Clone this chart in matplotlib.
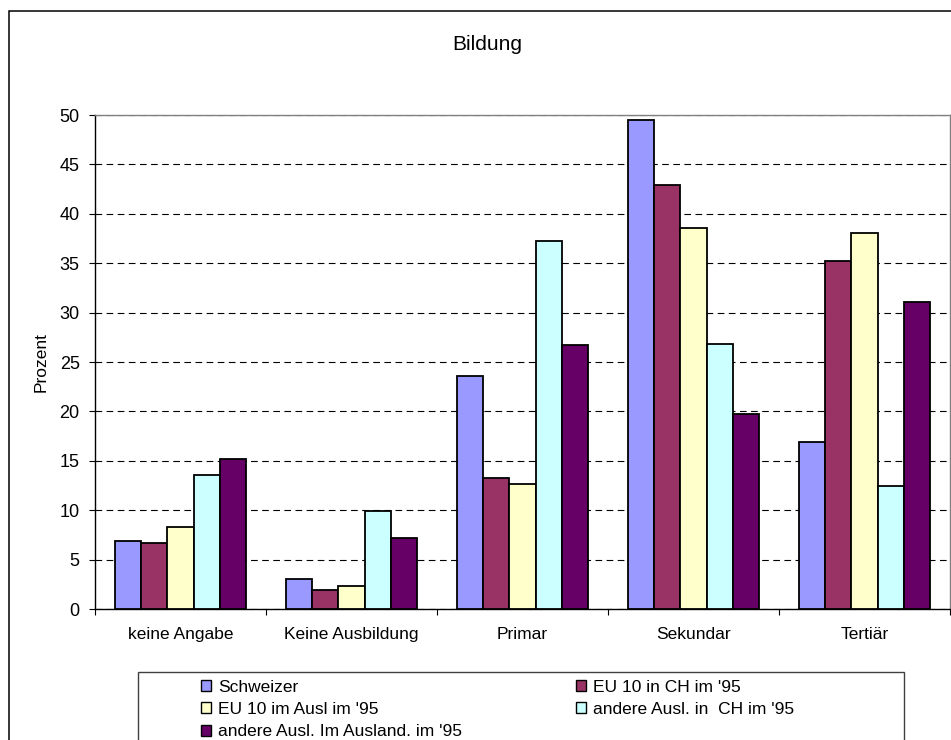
import numpy as np
import matplotlib
matplotlib.use("Agg")
import matplotlib.pyplot as plt
from matplotlib.patches import Patch, Rectangle

plt.rcParams['font.family'] = ['Liberation Sans', 'DejaVu Sans']

# data
categories = ['keine Angabe', 'Keine Ausbildung', 'Primar', 'Sekundar', 'Tertiär']
series_names = ['Schweizer', "EU 10 in CH im '95", "EU 10 im Ausl im '95",
                "andere Ausl. in  CH im '95", "andere Ausl. Im Ausland. im '95"]
schweizer = [6.9, 3.0, 23.6, 49.5, 16.9]
eu10_ch = [6.7, 1.9, 13.3, 42.9, 35.2]
eu10_ausl = [8.3, 2.3, 12.7, 38.6, 38.1]
andere_ch = [13.6, 9.9, 37.2, 26.8, 12.4]
andere_ausl = [15.2, 7.2, 26.7, 19.7, 31.1]
y_ticks = [0, 5, 10, 15, 20, 25, 30, 35, 40, 45, 50]

colors = ['#9999FF', '#993366', '#FFFFCC', '#CCFFFF', '#660066']
values = [schweizer, eu10_ch, eu10_ausl, andere_ch, andere_ausl]

W, H = 951, 740
fig = plt.figure(figsize=(W / 100, H / 100), dpi=100)

# outer chart border
fig.add_artist(Rectangle((9 / W, -0.1), 1.2, 1 - 11 / H + 0.1, transform=fig.transFigure,
                         fill=False, edgecolor='black', lw=1.1))

ax = fig.add_axes([95 / W, 1 - 609 / H, (950 - 95) / W, (609 - 115) / H])

x = np.arange(len(categories))
bw = 0.153
for i, (vals, c) in enumerate(zip(values, colors)):
    ax.bar(x + (i - 2) * bw, vals, width=bw, color=c, edgecolor='black', lw=1.3, zorder=3)

ax.set_xlim(-0.5, len(categories) - 0.5)
ax.set_ylim(0, 50)
ax.set_yticks(y_ticks)
ax.tick_params(axis='y', direction='out', length=4, width=0.8, pad=7, labelsize=13)
ax.set_xticks(x)
ax.set_xticklabels(categories)
ax.tick_params(axis='x', which='major', length=0, pad=13, labelsize=12.5)
ax.set_xticks(np.arange(len(categories) + 1) - 0.5, minor=True)
ax.tick_params(axis='x', which='minor', direction='out', length=4, width=0.8)

ax.yaxis.grid(True, color='black', lw=0.8, linestyle=(0, (6, 4)), zorder=0)
ax.set_axisbelow(True)
for s in ['top', 'right']:
    ax.spines[s].set_color('#808080')
    ax.spines[s].set_linewidth(1.0)
ax.spines['left'].set_linewidth(1.0)
ax.spines['bottom'].set_linewidth(1.0)

ax.set_ylabel('Prozent', fontsize=12.5)
ax.yaxis.set_label_coords((49 - 95) / 855, 0.5)

fig.text(487 / W, 1 - 45 / H, 'Bildung', ha='center', va='center', fontsize=15)

# legend frame and legend (row-wise order like the original)
fig.add_artist(Rectangle((138 / W, -0.1), (904 - 138) / W, 1 - 672 / H + 0.1,
                         transform=fig.transFigure, fill=False, edgecolor='#404040', lw=1.0))
handles = [Patch(facecolor=c, edgecolor='black', lw=1.0) for c in colors]
order = [0, 2, 4, 1, 3]
fig.legend([handles[k] for k in order], [series_names[k] for k in order],
           ncol=2, loc='upper left', bbox_to_anchor=(192 / W, 1 - 671 / H),
           bbox_transform=fig.transFigure, frameon=False, borderpad=0,
           fontsize=12.5, handlelength=0.6, handleheight=0.6, handletextpad=0.4,
           labelspacing=0.42, columnspacing=6.55)

fig.savefig('out.png', dpi=100)
